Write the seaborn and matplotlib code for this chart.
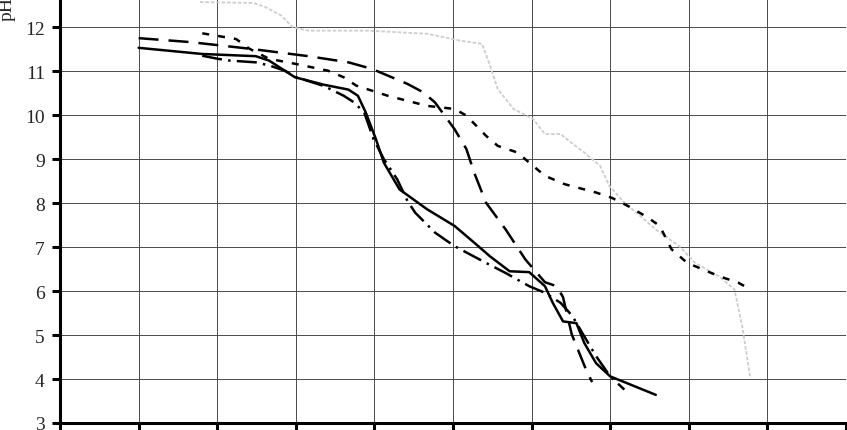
import matplotlib
matplotlib.use("Agg")
import matplotlib.pyplot as plt
import seaborn as sns
import pandas as pd

# --- data (x in grid units, y in pH) ---
solid_x = [1.00, 1.81, 2.49, 2.66, 2.99, 3.36, 3.67, 3.79, 3.89, 4.02, 4.12, 4.32, 4.67,
           5.02, 5.27, 5.47, 5.72, 5.97, 6.17, 6.27, 6.40, 6.57, 6.67, 6.82, 7.00, 7.58]
solid_y = [11.53, 11.39, 11.34, 11.24, 10.86, 10.69, 10.58, 10.44, 10.06, 9.45, 8.92, 8.31, 7.86,
           7.48, 7.10, 6.79, 6.45, 6.43, 6.11, 5.73, 5.31, 5.27, 4.82, 4.36, 4.06, 3.64]

longdash_x = [1.00, 1.66, 2.41, 3.16, 3.67, 3.97, 4.42, 4.62, 4.77, 5.02, 5.17, 5.27, 5.42,
              5.67, 5.92, 6.17, 6.32, 6.40, 6.51, 6.70, 6.77]
longdash_y = [11.75, 11.66, 11.51, 11.34, 11.20, 11.05, 10.71, 10.52, 10.29, 9.68, 9.23, 8.69, 8.01,
              7.40, 6.72, 6.20, 6.11, 5.86, 5.02, 4.18, 3.93]

dashdot_x = [1.81, 2.01, 2.16, 2.49, 2.66, 2.86, 3.01, 3.36, 3.61, 3.74, 3.87, 3.99, 4.12, 4.29,
             4.42, 4.52, 4.77, 5.02, 5.42, 5.67, 5.97, 6.17, 6.37, 6.52, 6.67, 6.82, 7.00, 7.18]
dashdot_y = [11.35, 11.28, 11.24, 11.20, 11.13, 11.01, 10.86, 10.66, 10.44, 10.29, 10.06, 9.45, 9.00, 8.54,
             8.05, 7.78, 7.33, 7.02, 6.64, 6.41, 6.11, 5.96, 5.73, 5.43, 4.97, 4.52, 4.06, 3.76]

shortdash_x = [1.81, 2.24, 2.41, 2.66, 3.01, 3.41, 3.61, 3.77, 4.17, 4.67, 5.02, 5.17, 5.42, 5.57,
               5.82, 5.97, 6.17, 6.42, 6.82, 7.02, 7.23, 7.48, 7.63, 7.78, 7.98, 8.38, 8.63, 8.78]
shortdash_y = [11.86, 11.73, 11.51, 11.28, 11.16, 11.01, 10.86, 10.67, 10.44, 10.21, 10.14, 9.99, 9.53, 9.30,
               9.15, 8.92, 8.62, 8.43, 8.24, 8.12, 7.93, 7.67, 7.48, 6.95, 6.64, 6.34, 6.19, 6.04]

gray_x = [1.78, 2.46, 2.61, 2.81, 2.96, 3.16, 3.92, 4.67, 5.07, 5.37, 5.47, 5.57, 5.77, 6.02, 6.17,
          6.37, 6.47, 6.67, 6.87, 6.99, 7.18, 7.38, 7.58, 7.88, 8.08, 8.38, 8.58, 8.68, 8.78]
gray_y = [12.57, 12.55, 12.46, 12.27, 12.00, 11.92, 11.92, 11.85, 11.70, 11.62, 11.13, 10.59, 10.14, 9.91, 9.57,
          9.57, 9.42, 9.15, 8.85, 8.39, 8.01, 7.71, 7.40, 7.02, 6.64, 6.34, 6.04, 5.20, 4.06]

series = {
    "solid": (solid_x, solid_y),
    "longdash": (longdash_x, longdash_y),
    "dashdot": (dashdot_x, dashdot_y),
    "shortdash": (shortdash_x, shortdash_y),
}
frames = []
for name, (xs, ys) in series.items():
    frames.append(pd.DataFrame({"x": xs, "pH": ys, "series": name}))
df = pd.concat(frames, ignore_index=True)
df_gray = pd.DataFrame({"x": gray_x, "pH": gray_y})

sns.set_style("white")
plt.rcParams["font.family"] = ["Liberation Serif", "DejaVu Serif"]

fig = plt.figure(figsize=(8.47, 4.31), dpi=100)
ax = fig.add_axes([60 / 847, 7 / 431, 786 / 847, 424 / 431])

sns.lineplot(data=df_gray, x="x", y="pH", color="#cdcdcd", linewidth=1.3,
             dashes=False, ax=ax, sort=False, estimator=None)
ax.lines[-1].set_dashes((2, 1))

sns.lineplot(
    data=df, x="x", y="pH", hue="series", style="series",
    palette={k: "black" for k in series},
    dashes={"solid": "", "longdash": (8, 4), "dashdot": (8, 2.5, 1, 2.5),
            "shortdash": (2.8, 3.6)},
    linewidth=1.8, sort=False, estimator=None, legend=False, ax=ax,
)

ax.set_xlim(0, 10)
ax.set_ylim(3, 12.64)
ax.set_xticks(range(0, 11))
ax.set_xticklabels([])
ax.set_yticks(range(3, 13))
ax.grid(True, color="#4a4a4a", linewidth=0.7)
ax.set_axisbelow(True)

for side in ["top", "right"]:
    ax.spines[side].set_visible(False)
for side in ["left", "bottom"]:
    ax.spines[side].set_linewidth(2.2)
    ax.spines[side].set_color("black")

ax.tick_params(axis="both", direction="out", length=6, width=2.2, color="black",
               labelsize=14, pad=5, left=True, bottom=True)
ax.set_xlabel("")
ax.set_ylabel("pH", fontsize=14)
ax.yaxis.set_label_coords(-0.056, 0.978)

fig.savefig("out.png", dpi=100)
